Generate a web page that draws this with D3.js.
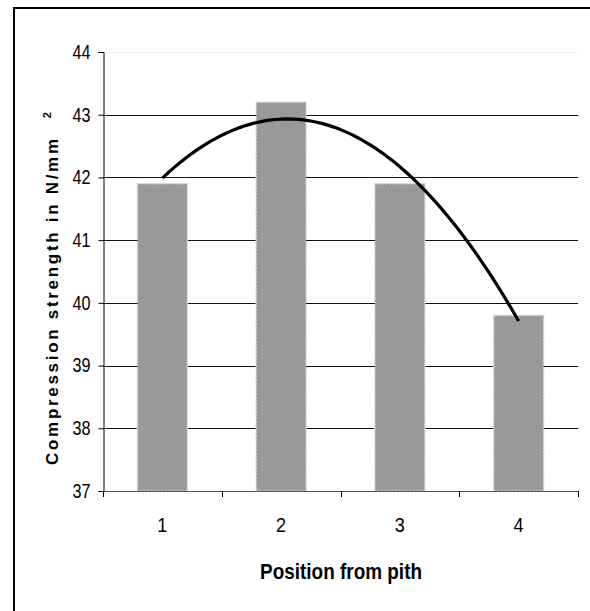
<!DOCTYPE html>
<html>
<head>
<meta charset="utf-8">
<script src="https://cdn.jsdelivr.net/npm/d3@7"></script>
<style>
  html, body { margin: 0; padding: 0; background: #fff; }
  svg { display: block; }
</style>
</head>
<body>
<svg id="chart" width="590" height="611"></svg>
<script>
// Compression strength by radial position from the pith
const positions = ["1", "2", "3", "4"];
const strength = [41.9, 43.2, 41.9, 39.8];
const yTicks = [37, 38, 39, 40, 41, 42, 43, 44];
const yTitle = "Compression strength in N/mm";
const yTitleSup = "2";
const xTitle = "Position from pith";

const W = 590, H = 611;
const plot = { left: 103, right: 578, top: 52, bottom: 491 };
const font = "'Liberation Sans', Arial, sans-serif";

const svg = d3.select("#chart");

// Frame around the chart area
svg.append("rect")
  .attr("x", 14).attr("y", 8)
  .attr("width", W + 20).attr("height", H + 20)
  .attr("fill", "none").attr("stroke", "#000").attr("stroke-width", 2);

const y = d3.scaleLinear().domain([37, 44]).range([plot.bottom, plot.top]);
const x = d3.scaleBand().domain(positions)
  .range([plot.left, plot.right])
  .paddingInner(0.58).paddingOuter(0.29);
const slots = d3.scaleBand().domain(positions).range([plot.left, plot.right]).padding(0);

// Horizontal gridlines
svg.append("g").selectAll("line")
  .data(yTicks.filter(t => t > 37))
  .join("line")
  .attr("x1", plot.left).attr("x2", plot.right)
  .attr("y1", d => Math.round(y(d)) + 0.5).attr("y2", d => Math.round(y(d)) + 0.5)
  .attr("stroke", d => d === 44 ? "#eeeeee" : "#111")
  .attr("stroke-width", 1);

// Bars
svg.append("g").selectAll("rect")
  .data(positions.map((p, i) => ({ p, v: strength[i] })))
  .join("rect")
  .attr("x", d => x(d.p))
  .attr("y", d => y(d.v))
  .attr("width", x.bandwidth())
  .attr("height", d => y(37) - y(d.v))
  .attr("fill", "#999999")
  .attr("stroke", "#d4d4d4")
  .attr("stroke-width", 1.5)
  .attr("stroke-dasharray", "2,1.5");

// Y axis
const yAxis = d3.axisLeft(y).tickValues(yTicks).tickSize(5).tickPadding(8).tickFormat(d3.format("d"));
const gy = svg.append("g").attr("transform", `translate(${plot.left + 0.5},0)`).call(yAxis);
gy.select(".domain").attr("stroke", "#000");
gy.selectAll(".tick line").attr("stroke", "#000");
gy.selectAll(".tick text")
  .attr("font-family", font).attr("font-size", 20).attr("fill", "#000")
  .attr("textLength", 18).attr("lengthAdjust", "spacingAndGlyphs");

// X axis: ticks fall between the categories
svg.append("line")
  .attr("x1", plot.left).attr("x2", plot.right)
  .attr("y1", plot.bottom + 0.5).attr("y2", plot.bottom + 0.5)
  .attr("stroke", "#555").attr("stroke-width", 1);
const bounds = positions.map(p => slots(p)).concat([plot.right]);
svg.append("g").selectAll("line")
  .data(bounds)
  .join("line")
  .attr("x1", d => Math.round(d) + 0.5).attr("x2", d => Math.round(d) + 0.5)
  .attr("y1", plot.bottom).attr("y2", plot.bottom + 6)
  .attr("stroke", "#000");
svg.append("g").selectAll("text")
  .data(positions)
  .join("text")
  .attr("x", d => x(d) + x.bandwidth() / 2)
  .attr("y", 532)
  .attr("text-anchor", "middle")
  .attr("font-family", font).attr("font-size", 20)
  .attr("transform", d => `translate(${(x(d) + x.bandwidth() / 2) * 0.1},0) scale(0.9,1)`)
  .text(d => d);

// Second-order polynomial trendline (least squares through the bar values)
function quadFit(xs, ys) {
  let s = [0, 0, 0, 0, 0], t = [0, 0, 0];
  xs.forEach((xv, i) => {
    for (let k = 0; k <= 4; k++) s[k] += Math.pow(xv, k);
    for (let k = 0; k <= 2; k++) t[k] += Math.pow(xv, k) * ys[i];
  });
  const A = [[s[0], s[1], s[2], t[0]], [s[1], s[2], s[3], t[1]], [s[2], s[3], s[4], t[2]]];
  for (let c = 0; c < 3; c++) {
    for (let r = c + 1; r < 3; r++) {
      const f = A[r][c] / A[c][c];
      for (let k = c; k < 4; k++) A[r][k] -= f * A[c][k];
    }
  }
  const coef = [0, 0, 0];
  for (let r = 2; r >= 0; r--) {
    let v = A[r][3];
    for (let k = r + 1; k < 3; k++) v -= A[r][k] * coef[k];
    coef[r] = v / A[r][r];
  }
  return xv => coef[0] + coef[1] * xv + coef[2] * xv * xv;
}
const idx = positions.map((p, i) => i + 1);
const trend = quadFit(idx, strength);
const xPos = v => x(positions[0]) + x.bandwidth() / 2 + (v - 1) * x.step();
const samples = d3.range(1, 4.0001, 0.05);
svg.append("path")
  .datum(samples)
  .attr("fill", "none")
  .attr("stroke", "#000")
  .attr("stroke-width", 3.2)
  .attr("stroke-linejoin", "round")
  .attr("d", d3.line().x(v => xPos(v)).y(v => y(trend(v))));

// Axis titles
const yt = svg.append("text")
  .attr("transform", "translate(58,465) rotate(-90)")
  .attr("font-family", font).attr("font-weight", "bold")
  .attr("font-size", 17).attr("letter-spacing", 2.7)
  .attr("fill", "#000");
yt.append("tspan").text(yTitle);
yt.append("tspan").attr("dx", 18).attr("dy", -7).attr("font-size", 11).text(yTitleSup);

svg.append("text")
  .attr("x", 260)
  .attr("y", 579)
  .attr("font-family", font).attr("font-weight", "bold")
  .attr("font-size", 22)
  .attr("textLength", 162).attr("lengthAdjust", "spacingAndGlyphs")
  .text(xTitle);
</script>
</body>
</html>
